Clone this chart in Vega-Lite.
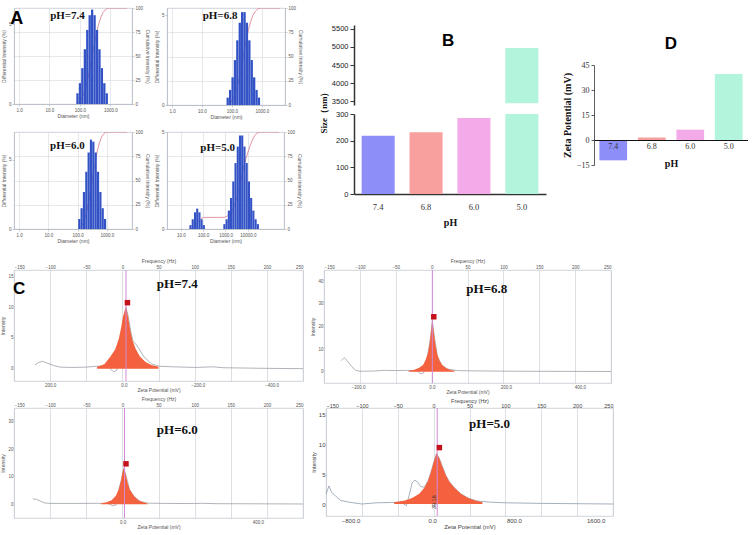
{
"$schema": "https://vega.github.io/schema/vega-lite/v6.json",
"padding": {"left": 0, "top": 4, "right": 0, "bottom": 0},
"background": "white",
"config": {
  "font": "Liberation Sans",
  "view": {"stroke": null},
  "axis": {"labelFontSize": 4.5, "titleFontSize": 5, "titleFontWeight": "normal", "labelColor": "#555", "titleColor": "#555", "domainColor": "#aab0ba", "tickColor": "#aab0ba", "tickSize": 2, "labelPadding": 1, "titlePadding": 2, "gridColor": "#d5d8de", "gridWidth": 0.6, "domainWidth": 0.6, "tickWidth": 0.6, "labelOverlap": false}
},
"datasets": {
  "dls": [
    {"p":"7.4","d":83,"h":0.67},{"p":"7.4","d":100,"h":1.3},{"p":"7.4","d":120,"h":2.24},{"p":"7.4","d":145,"h":3.42},{"p":"7.4","d":174,"h":4.63},{"p":"7.4","d":209,"h":5.55},{"p":"7.4","d":251,"h":5.9},{"p":"7.4","d":302,"h":5.55},{"p":"7.4","d":363,"h":4.63},{"p":"7.4","d":437,"h":3.42},{"p":"7.4","d":525,"h":2.24},{"p":"7.4","d":631,"h":1.3},{"p":"7.4","d":759,"h":0.67},
    {"p":"6.8","d":72,"h":0.41},{"p":"6.8","d":87,"h":0.84},{"p":"6.8","d":105,"h":1.54},{"p":"6.8","d":126,"h":2.5},{"p":"6.8","d":151,"h":3.6},{"p":"6.8","d":182,"h":4.58},{"p":"6.8","d":219,"h":5.17},{"p":"6.8","d":263,"h":5.17},{"p":"6.8","d":316,"h":4.58},{"p":"6.8","d":380,"h":3.6},{"p":"6.8","d":457,"h":2.5},{"p":"6.8","d":550,"h":1.54},{"p":"6.8","d":661,"h":0.84},{"p":"6.8","d":794,"h":0.41},
    {"p":"6.0","d":115,"h":0.72},{"p":"6.0","d":138,"h":1.5},{"p":"6.0","d":166,"h":2.67},{"p":"6.0","d":200,"h":4.13},{"p":"6.0","d":240,"h":5.52},{"p":"6.0","d":288,"h":6.45},{"p":"6.0","d":347,"h":6.3},{"p":"6.0","d":417,"h":5.52},{"p":"6.0","d":501,"h":4.13},{"p":"6.0","d":603,"h":2.67},{"p":"6.0","d":724,"h":1.5},{"p":"6.0","d":871,"h":0.72},
    {"p":"5.0","d":27,"h":0.2},{"p":"5.0","d":34,"h":0.5},{"p":"5.0","d":43,"h":0.86},{"p":"5.0","d":54,"h":1.05},{"p":"5.0","d":68,"h":0.86},{"p":"5.0","d":85,"h":0.5},{"p":"5.0","d":107,"h":0.2},
    {"p":"5.0","d":891,"h":0.25},{"p":"5.0","d":1122,"h":0.5},{"p":"5.0","d":1413,"h":0.95},{"p":"5.0","d":1778,"h":1.6},{"p":"5.0","d":2239,"h":2.45},{"p":"5.0","d":2818,"h":3.4},{"p":"5.0","d":3548,"h":4.25},{"p":"5.0","d":4467,"h":4.82},{"p":"5.0","d":5623,"h":4.82},{"p":"5.0","d":7079,"h":4.25},{"p":"5.0","d":8913,"h":3.4},{"p":"5.0","d":11220,"h":2.45},{"p":"5.0","d":14125,"h":1.6},{"p":"5.0","d":17783,"h":0.95},{"p":"5.0","d":22387,"h":0.5},{"p":"5.0","d":28184,"h":0.25}
  ],
  "cum": [
    {"p":"7.4","d":76,"c":0},{"p":"7.4","d":91,"c":1.6},{"p":"7.4","d":110,"c":4.7},{"p":"7.4","d":132,"c":10.1},{"p":"7.4","d":158,"c":18.4},{"p":"7.4","d":191,"c":29.5},{"p":"7.4","d":229,"c":42.9},{"p":"7.4","d":275,"c":57.1},{"p":"7.4","d":331,"c":70.5},{"p":"7.4","d":398,"c":81.6},{"p":"7.4","d":479,"c":89.9},{"p":"7.4","d":575,"c":95.3},{"p":"7.4","d":692,"c":98.4},{"p":"7.4","d":832,"c":100},{"p":"7.4","d":3500,"c":100},
    {"p":"6.8","d":66,"c":0},{"p":"6.8","d":79,"c":1.1},{"p":"6.8","d":95,"c":3.4},{"p":"6.8","d":115,"c":7.5},{"p":"6.8","d":138,"c":14.2},{"p":"6.8","d":166,"c":23.8},{"p":"6.8","d":200,"c":36.1},{"p":"6.8","d":240,"c":50},{"p":"6.8","d":288,"c":63.9},{"p":"6.8","d":347,"c":76.2},{"p":"6.8","d":417,"c":85.8},{"p":"6.8","d":501,"c":92.5},{"p":"6.8","d":603,"c":96.6},{"p":"6.8","d":724,"c":98.9},{"p":"6.8","d":871,"c":100},{"p":"6.8","d":4000,"c":100},
    {"p":"6.0","d":105,"c":0},{"p":"6.0","d":126,"c":1.7},{"p":"6.0","d":151,"c":5.3},{"p":"6.0","d":182,"c":11.7},{"p":"6.0","d":219,"c":21.6},{"p":"6.0","d":263,"c":34.8},{"p":"6.0","d":316,"c":50},{"p":"6.0","d":380,"c":65.2},{"p":"6.0","d":457,"c":78.4},{"p":"6.0","d":550,"c":88.3},{"p":"6.0","d":661,"c":94.7},{"p":"6.0","d":794,"c":98.3},{"p":"6.0","d":955,"c":100},{"p":"6.0","d":4900,"c":100},
    {"p":"5.0","d":24,"c":0},{"p":"5.0","d":30,"c":0.6},{"p":"5.0","d":38,"c":2},{"p":"5.0","d":48,"c":4.6},{"p":"5.0","d":60,"c":7.8},{"p":"5.0","d":76,"c":10.3},{"p":"5.0","d":95,"c":11.6},{"p":"5.0","d":120,"c":12},{"p":"5.0","d":841,"c":12},{"p":"5.0","d":1000,"c":12.5},{"p":"5.0","d":1259,"c":13.6},{"p":"5.0","d":1585,"c":15.6},{"p":"5.0","d":1995,"c":19},{"p":"5.0","d":2512,"c":24.3},{"p":"5.0","d":3162,"c":31.7},{"p":"5.0","d":3981,"c":41},{"p":"5.0","d":5012,"c":51.5},{"p":"5.0","d":6310,"c":62.1},{"p":"5.0","d":7943,"c":71.4},{"p":"5.0","d":10000,"c":78.8},{"p":"5.0","d":12589,"c":85.5},{"p":"5.0","d":15849,"c":91.6},{"p":"5.0","d":19953,"c":96},{"p":"5.0","d":25119,"c":98.6},{"p":"5.0","d":31623,"c":100},{"p":"5.0","d":250000,"c":100}
  ],
  "alab": [
    {"p":"7.4","x":39,"y":92,"t":"pH=7.4"},{"p":"6.8","x":40,"y":92,"t":"pH=6.8"},{"p":"6.0","x":45,"y":86,"t":"pH=6.0"},{"p":"5.0","x":446,"y":84,"t":"pH=5.0"}
  ],
  "sz": [{"pH":"7.4","size":218},{"pH":"6.8","size":232},{"pH":"6.0","size":285},{"pH":"5.0","size":4970}],
  "zp": [{"pH":"7.4","zeta":-12.2},{"pH":"6.8","zeta":1.5},{"pH":"6.0","zeta":6.2},{"pH":"5.0","zeta":39.6}],
  "ca": [
    {"p":"7.4","f":-35,"i":0.3},{"p":"7.4","f":-25,"i":0.7},{"p":"7.4","f":-17,"i":1.9},{"p":"7.4","f":-10,"i":3.1},{"p":"7.4","f":-5,"i":4.8},{"p":"7.4","f":-2,"i":6.5},{"p":"7.4","f":1,"i":8.5},{"p":"7.4","f":5,"i":10},{"p":"7.4","f":8,"i":8.3},{"p":"7.4","f":11,"i":6.2},{"p":"7.4","f":14,"i":4.6},{"p":"7.4","f":18,"i":3.3},{"p":"7.4","f":24,"i":2},{"p":"7.4","f":32,"i":1.1},{"p":"7.4","f":40,"i":0.6},{"p":"7.4","f":50,"i":0.3},
    {"p":"6.8","f":-32,"i":0.4},{"p":"6.8","f":-25,"i":0.8},{"p":"6.8","f":-18,"i":1.6},{"p":"6.8","f":-12,"i":3},{"p":"6.8","f":-8,"i":5.5},{"p":"6.8","f":-5,"i":8.5},{"p":"6.8","f":-3,"i":12},{"p":"6.8","f":-1,"i":17},{"p":"6.8","f":1,"i":22.8},{"p":"6.8","f":3,"i":17.5},{"p":"6.8","f":5,"i":12.5},{"p":"6.8","f":8,"i":7.5},{"p":"6.8","f":11,"i":4.8},{"p":"6.8","f":15,"i":2.9},{"p":"6.8","f":20,"i":1.6},{"p":"6.8","f":26,"i":0.8},{"p":"6.8","f":32,"i":0.4},
    {"p":"6.0","f":-30,"i":0.3},{"p":"6.0","f":-22,"i":0.7},{"p":"6.0","f":-15,"i":1.5},{"p":"6.0","f":-9,"i":3.1},{"p":"6.0","f":-5,"i":5.5},{"p":"6.0","f":-2,"i":8.5},{"p":"6.0","f":0,"i":11.5},{"p":"6.0","f":2,"i":13.2},{"p":"6.0","f":4,"i":11.5},{"p":"6.0","f":7,"i":8},{"p":"6.0","f":10,"i":5.5},{"p":"6.0","f":16,"i":3},{"p":"6.0","f":22,"i":1.5},{"p":"6.0","f":28,"i":0.8},{"p":"6.0","f":35,"i":0.3},
    {"p":"5.0","f":-55,"i":0.3},{"p":"5.0","f":-40,"i":0.6},{"p":"5.0","f":-30,"i":1},{"p":"5.0","f":-20,"i":1.7},{"p":"5.0","f":-13,"i":2.7},{"p":"5.0","f":-8,"i":3.8},{"p":"5.0","f":-4,"i":5.2},{"p":"5.0","f":0,"i":6.9},{"p":"5.0","f":4,"i":8.4},{"p":"5.0","f":8,"i":7.6},{"p":"5.0","f":12,"i":6.3},{"p":"5.0","f":17,"i":4.8},{"p":"5.0","f":22,"i":3.7},{"p":"5.0","f":29,"i":2.7},{"p":"5.0","f":38,"i":1.7},{"p":"5.0","f":48,"i":1},{"p":"5.0","f":58,"i":0.6},{"p":"5.0","f":68,"i":0.3}
  ],
  "cl": [
    {"p":"7.4","f":-121,"i":0.6},{"p":"7.4","f":-116,"i":1},{"p":"7.4","f":-111,"i":1.2},{"p":"7.4","f":-104,"i":0.9},{"p":"7.4","f":-95,"i":0.5},{"p":"7.4","f":-86,"i":0.25},{"p":"7.4","f":-70,"i":0.2},{"p":"7.4","f":-50,"i":0.25},{"p":"7.4","f":-35,"i":0.4},{"p":"7.4","f":-20,"i":0.3},{"p":"7.4","f":-12,"i":-0.5},{"p":"7.4","f":-8,"i":-0.3},{"p":"7.4","f":-4,"i":2},{"p":"7.4","f":0,"i":6},{"p":"7.4","f":3,"i":9},{"p":"7.4","f":5,"i":9.9},{"p":"7.4","f":8,"i":8.6},{"p":"7.4","f":12,"i":5.8},{"p":"7.4","f":15,"i":4.4},{"p":"7.4","f":18,"i":4.1},{"p":"7.4","f":22,"i":3.4},{"p":"7.4","f":30,"i":1.9},{"p":"7.4","f":40,"i":0.8},{"p":"7.4","f":50,"i":0.4},{"p":"7.4","f":70,"i":0.3},{"p":"7.4","f":100,"i":0.2},{"p":"7.4","f":126,"i":0.3},{"p":"7.4","f":140,"i":0.15},{"p":"7.4","f":200,"i":0.05},{"p":"7.4","f":250,"i":0},
    {"p":"6.8","f":-126,"i":4.9},{"p":"6.8","f":-122,"i":6.2},{"p":"6.8","f":-118,"i":5},{"p":"6.8","f":-112,"i":2.5},{"p":"6.8","f":-106,"i":0.6},{"p":"6.8","f":-100,"i":0.2},{"p":"6.8","f":-80,"i":0.3},{"p":"6.8","f":-66,"i":0.6},{"p":"6.8","f":-50,"i":0.5},{"p":"6.8","f":-35,"i":0.6},{"p":"6.8","f":-20,"i":0.3},{"p":"6.8","f":-15,"i":-1},{"p":"6.8","f":-11,"i":-0.5},{"p":"6.8","f":-6,"i":6.5},{"p":"6.8","f":-2,"i":14},{"p":"6.8","f":1,"i":22.5},{"p":"6.8","f":4,"i":15},{"p":"6.8","f":8,"i":7},{"p":"6.8","f":14,"i":3},{"p":"6.8","f":22,"i":1.2},{"p":"6.8","f":35,"i":0.5},{"p":"6.8","f":50,"i":0.4},{"p":"6.8","f":80,"i":0.3},{"p":"6.8","f":120,"i":0.2},{"p":"6.8","f":180,"i":0.15},{"p":"6.8","f":250,"i":0.1},
    {"p":"6.0","f":-124,"i":1.9},{"p":"6.0","f":-119,"i":1.8},{"p":"6.0","f":-114,"i":1.2},{"p":"6.0","f":-108,"i":0.5},{"p":"6.0","f":-100,"i":0.3},{"p":"6.0","f":-60,"i":0.3},{"p":"6.0","f":-35,"i":0.35},{"p":"6.0","f":-20,"i":0.3},{"p":"6.0","f":-13,"i":-0.6},{"p":"6.0","f":-9,"i":-0.3},{"p":"6.0","f":-5,"i":5},{"p":"6.0","f":-2,"i":8.3},{"p":"6.0","f":2,"i":13},{"p":"6.0","f":5,"i":10.5},{"p":"6.0","f":10,"i":5.3},{"p":"6.0","f":16,"i":2.9},{"p":"6.0","f":25,"i":1},{"p":"6.0","f":35,"i":0.4},{"p":"6.0","f":60,"i":0.3},{"p":"6.0","f":100,"i":0.25},{"p":"6.0","f":110,"i":0.35},{"p":"6.0","f":130,"i":0.2},{"p":"6.0","f":200,"i":0.15},{"p":"6.0","f":250,"i":0.1},
    {"p":"5.0","f":-150,"i":1.6},{"p":"5.0","f":-146,"i":3},{"p":"5.0","f":-142,"i":1.9},{"p":"5.0","f":-138,"i":1.5},{"p":"5.0","f":-130,"i":0.6},{"p":"5.0","f":-118,"i":0.3},{"p":"5.0","f":-100,"i":0},{"p":"5.0","f":-80,"i":0.2},{"p":"5.0","f":-60,"i":0.25},{"p":"5.0","f":-45,"i":0.3},{"p":"5.0","f":-38,"i":-0.3},{"p":"5.0","f":-34,"i":1.5},{"p":"5.0","f":-30,"i":3.5},{"p":"5.0","f":-26,"i":4},{"p":"5.0","f":-22,"i":3.6},{"p":"5.0","f":-18,"i":2.9},{"p":"5.0","f":-13,"i":2.8},{"p":"5.0","f":-8,"i":3.8},{"p":"5.0","f":-4,"i":5.2},{"p":"5.0","f":0,"i":6.9},{"p":"5.0","f":4,"i":8.4},{"p":"5.0","f":8,"i":7.6},{"p":"5.0","f":12,"i":6.3},{"p":"5.0","f":17,"i":4.8},{"p":"5.0","f":22,"i":3.7},{"p":"5.0","f":29,"i":2.7},{"p":"5.0","f":38,"i":1.7},{"p":"5.0","f":48,"i":1},{"p":"5.0","f":60,"i":0.5},{"p":"5.0","f":80,"i":0.3},{"p":"5.0","f":100,"i":0.2},{"p":"5.0","f":150,"i":0.1},{"p":"5.0","f":200,"i":0.05},{"p":"5.0","f":250,"i":0}
  ],
  "cp": [{"p":"7.4","fr":5,"fs":7,"is":10.7},{"p":"6.8","fr":1,"fs":3,"is":24.3},{"p":"6.0","fr":3,"fs":5,"is":14.7},{"p":"5.0","fr":5,"fs":8,"is":9.4}],
  "ct": [{"p":"7.4","f":76,"i":13.8,"t":"pH=7.4"},{"p":"6.8","f":77,"i":36.6,"t":"pH=6.8"},{"p":"6.0","f":76,"i":26.9,"t":"pH=6.0"},{"p":"5.0","f":78,"i":13.3,"t":"pH=5.0"}],
  "zt": [{"p":"7.4","z":200},{"p":"7.4","z":0},{"p":"7.4","z":-200},{"p":"7.4","z":-400},{"p":"6.8","z":-200},{"p":"6.8","z":0},{"p":"6.8","z":200},{"p":"6.8","z":400},{"p":"6.0","z":0},{"p":"6.0","z":400},{"p":"5.0","z":-800},{"p":"5.0","z":0},{"p":"5.0","z":800},{"p":"5.0","z":1600}]
},
"vconcat": [
 {"hconcat": [
  {"vconcat": [
   {"hconcat": [
    {"width": 118, "height": 96, "view": {"stroke": "#c8cdd6", "strokeWidth": 0.8},
     "layer": [
      {"data": {"name": "cum"}, "transform": [{"filter": "datum.p == '7.4'"}], "mark": {"type": "line", "color": "#d9788a", "strokeWidth": 0.8, "clip": true},
       "encoding": {"x": {"field": "d", "type": "quantitative", "scale": {"type": "log", "domain": [1, 3500]}, "axis": {"values": [1, 10, 100, 1000], "tickCount": 20, "format": ".1f", "grid": true, "title": "Diameter (nm)"}},
                    "y": {"field": "c", "type": "quantitative", "scale": {"domain": [0, 100]}, "axis": {"orient": "right", "values": [0, 25, 50, 75, 100], "tickCount": 20, "grid": true, "title": "Cumulative Intensity (%)"}}}},
      {"data": {"name": "dls"}, "transform": [{"filter": "datum.p == '7.4'"}], "mark": {"type": "bar", "orient": "vertical", "size": 2.3, "color": "#3252c6", "clip": true},
       "encoding": {"x": {"field": "d", "type": "quantitative", "scale": {"type": "log", "domain": [1, 3500]}},
                    "y": {"field": "h", "type": "quantitative", "scale": {"domain": [0, 6]}, "axis": {"orient": "left", "values": [0, 5], "title": "Differential Intensity (%)"}}}},
      {"data": {"name": "alab"}, "transform": [{"filter": "datum.p == '7.4'"}], "mark": {"type": "text", "font": "Liberation Serif", "fontWeight": "bold", "fontSize": 11, "color": "#111"},
       "encoding": {"x": {"field": "x", "type": "quantitative", "scale": {"type": "log", "domain": [1, 3500]}}, "y": {"field": "y", "type": "quantitative", "scale": {"domain": [0, 100]}, "axis": null}, "text": {"field": "t"}}},
      {"data": {"values": [{"x": 0.85, "y": 89, "t": "A"}]}, "mark": {"type": "text", "fontWeight": "bold", "fontSize": 18, "color": "#000"},
       "encoding": {"x": {"field": "x", "type": "quantitative", "scale": {"type": "log", "domain": [1, 3500]}}, "y": {"field": "y", "type": "quantitative", "scale": {"domain": [0, 100]}, "axis": null}, "text": {"field": "t"}}}
     ],
     "resolve": {"scale": {"y": "independent"}}},
    {"width": 118, "height": 97, "view": {"stroke": "#c8cdd6", "strokeWidth": 0.8},
     "layer": [
      {"data": {"name": "cum"}, "transform": [{"filter": "datum.p == '6.8'"}], "mark": {"type": "line", "color": "#d9788a", "strokeWidth": 0.8, "clip": true},
       "encoding": {"x": {"field": "d", "type": "quantitative", "scale": {"type": "log", "domain": [1, 4000]}, "axis": {"values": [1, 10, 100, 1000], "tickCount": 20, "format": ".1f", "grid": true, "title": "Diameter (nm)"}},
                    "y": {"field": "c", "type": "quantitative", "scale": {"domain": [0, 100]}, "axis": {"orient": "right", "values": [0, 25, 50, 75, 100], "tickCount": 20, "grid": true, "title": "Cumulative Intensity (%)"}}}},
      {"data": {"name": "dls"}, "transform": [{"filter": "datum.p == '6.8'"}], "mark": {"type": "bar", "orient": "vertical", "size": 2.3, "color": "#3252c6", "clip": true},
       "encoding": {"x": {"field": "d", "type": "quantitative", "scale": {"type": "log", "domain": [1, 4000]}},
                    "y": {"field": "h", "type": "quantitative", "scale": {"domain": [0, 5.4]}, "axis": {"orient": "left", "values": [0, 5], "title": "Differential Intensity (%)"}}}},
      {"data": {"name": "alab"}, "transform": [{"filter": "datum.p == '6.8'"}], "mark": {"type": "text", "font": "Liberation Serif", "fontWeight": "bold", "fontSize": 11, "color": "#111"},
       "encoding": {"x": {"field": "x", "type": "quantitative", "scale": {"type": "log", "domain": [1, 4000]}}, "y": {"field": "y", "type": "quantitative", "scale": {"domain": [0, 100]}, "axis": null}, "text": {"field": "t"}}}
     ],
     "resolve": {"scale": {"y": "independent"}}}
   ], "spacing": 4},
   {"hconcat": [
    {"width": 118, "height": 97, "view": {"stroke": "#c8cdd6", "strokeWidth": 0.8},
     "layer": [
      {"data": {"name": "cum"}, "transform": [{"filter": "datum.p == '6.0'"}], "mark": {"type": "line", "color": "#d9788a", "strokeWidth": 0.8, "clip": true},
       "encoding": {"x": {"field": "d", "type": "quantitative", "scale": {"type": "log", "domain": [1, 4900]}, "axis": {"values": [1, 10, 100, 1000], "tickCount": 20, "format": ".1f", "grid": true, "title": "Diameter (nm)"}},
                    "y": {"field": "c", "type": "quantitative", "scale": {"domain": [0, 100]}, "axis": {"orient": "right", "values": [0, 25, 50, 75, 100], "tickCount": 20, "grid": true, "title": "Cumulative Intensity (%)"}}}},
      {"data": {"name": "dls"}, "transform": [{"filter": "datum.p == '6.0'"}], "mark": {"type": "bar", "orient": "vertical", "size": 2.2, "color": "#3252c6", "clip": true},
       "encoding": {"x": {"field": "d", "type": "quantitative", "scale": {"type": "log", "domain": [1, 4900]}},
                    "y": {"field": "h", "type": "quantitative", "scale": {"domain": [0, 7]}, "axis": {"orient": "left", "values": [0, 5], "title": "Differential Intensity (%)"}}}},
      {"data": {"name": "alab"}, "transform": [{"filter": "datum.p == '6.0'"}], "mark": {"type": "text", "font": "Liberation Serif", "fontWeight": "bold", "fontSize": 11, "color": "#111"},
       "encoding": {"x": {"field": "x", "type": "quantitative", "scale": {"type": "log", "domain": [1, 4900]}}, "y": {"field": "y", "type": "quantitative", "scale": {"domain": [0, 100]}, "axis": null}, "text": {"field": "t"}}}
     ],
     "resolve": {"scale": {"y": "independent"}}},
    {"width": 117, "height": 97, "view": {"stroke": "#c8cdd6", "strokeWidth": 0.8},
     "layer": [
      {"data": {"name": "cum"}, "transform": [{"filter": "datum.p == '5.0'"}], "mark": {"type": "line", "color": "#d9788a", "strokeWidth": 0.8, "clip": true},
       "encoding": {"x": {"field": "d", "type": "quantitative", "scale": {"type": "log", "domain": [4, 250000]}, "axis": {"values": [10, 100, 1000, 10000], "tickCount": 20, "format": ".1f", "grid": true, "title": "Diameter (nm)"}},
                    "y": {"field": "c", "type": "quantitative", "scale": {"domain": [0, 100]}, "axis": {"orient": "right", "values": [0, 25, 50, 75, 100], "tickCount": 20, "grid": true, "title": "Cumulative Intensity (%)"}}}},
      {"data": {"name": "dls"}, "transform": [{"filter": "datum.p == '5.0'"}], "mark": {"type": "bar", "orient": "vertical", "size": 2.1, "color": "#3252c6", "clip": true},
       "encoding": {"x": {"field": "d", "type": "quantitative", "scale": {"type": "log", "domain": [4, 250000]}},
                    "y": {"field": "h", "type": "quantitative", "scale": {"domain": [0, 5]}, "axis": {"orient": "left", "values": [0, 5], "title": "Differential Intensity (%)"}}}},
      {"data": {"name": "alab"}, "transform": [{"filter": "datum.p == '5.0'"}], "mark": {"type": "text", "font": "Liberation Serif", "fontWeight": "bold", "fontSize": 11, "color": "#111"},
       "encoding": {"x": {"field": "x", "type": "quantitative", "scale": {"type": "log", "domain": [4, 250000]}}, "y": {"field": "y", "type": "quantitative", "scale": {"domain": [0, 100]}, "axis": null}, "text": {"field": "t"}}}
     ],
     "resolve": {"scale": {"y": "independent"}}}
   ], "spacing": 4}
  ], "spacing": 8},
  {"hconcat": [
   {"vconcat": [
    {"width": 1, "height": 16, "data": {"values": [{"t": ""}]}, "mark": {"type": "text"}, "encoding": {"text": {"field": "t"}}},
    {"width": 192, "height": 169,
     "layer": [
      {"layer": [
       {"data": {"name": "sz"}, "transform": [{"filter": "datum.size > 3500"}], "mark": {"type": "bar"},
        "encoding": {"x": {"field": "pH", "type": "nominal", "scale": {"domain": ["7.4", "6.8", "6.0", "5.0"], "paddingInner": 0.31, "paddingOuter": 0.16}, "axis": {"title": "pH", "labelAngle": 0, "labelFont": "Liberation Serif", "labelFontSize": 8.5, "labelColor": "#333", "titleFont": "Liberation Serif", "titleFontWeight": "bold", "titleFontSize": 10, "titleColor": "#111", "domainColor": "#333", "domainWidth": 1.5, "ticks": false, "labelPadding": 8, "titlePadding": 7}},
                     "y": {"field": "size", "type": "quantitative", "scale": {"domain": [3500, 5500], "range": [80, 0]}, "axis": {"orient": "left", "values": [3500, 4000, 4500, 5000, 5500], "tickCount": 20, "format": "d", "title": "Size（nm）", "titleFont": "Liberation Serif", "titleFontWeight": "bold", "titleFontSize": 9, "titleColor": "#111", "titleY": 85, "titlePadding": 3, "labelFontSize": 7.5, "labelColor": "#222", "domainColor": "#333", "domainWidth": 1.5, "tickColor": "#333", "tickWidth": 1, "tickSize": 4, "labelPadding": 2, "grid": false}},
                     "y2": {"datum": 3450},
                     "color": {"field": "pH", "type": "nominal", "scale": {"domain": ["7.4", "6.8", "6.0", "5.0"], "range": ["#8e8ef8", "#f8a09e", "#f3aae8", "#b2f5dc"]}, "legend": null}}},
       {"data": {"values": [{"pH": "6.8", "y": 5150, "t": "B"}]}, "mark": {"type": "text", "fontSize": 17, "fontWeight": "bold", "dx": 22, "color": "#000"},
        "encoding": {"x": {"field": "pH", "type": "nominal"}, "y": {"field": "y", "type": "quantitative"}, "text": {"field": "t"}}}
      ]},
      {"data": {"name": "sz"}, "mark": {"type": "bar"},
       "encoding": {"x": {"field": "pH", "type": "nominal"},
                    "y": {"field": "size", "type": "quantitative", "scale": {"domain": [0, 300], "range": [169, 89], "clamp": true}, "axis": {"orient": "left", "values": [0, 100, 200, 300], "tickCount": 20, "title": null, "labelFontSize": 7.5, "labelColor": "#222", "domainColor": "#333", "domainWidth": 1.5, "tickColor": "#333", "tickWidth": 1, "tickSize": 4, "labelPadding": 2, "grid": false}},
                    "color": {"field": "pH", "type": "nominal", "legend": null}}}
     ],
     "resolve": {"scale": {"y": "independent"}}}
   ], "spacing": 0},
   {"vconcat": [
    {"width": 1, "height": 27, "data": {"values": [{"t": ""}]}, "mark": {"type": "text"}, "encoding": {"text": {"field": "t"}}},
    {"width": 154, "height": 100,
     "title": {"text": "D", "fontSize": 17, "fontWeight": "bold", "font": "Liberation Sans", "offset": 8, "color": "#000"},
     "data": {"name": "zp"}, "mark": {"type": "bar"},
     "encoding": {"x": {"field": "pH", "type": "nominal", "scale": {"domain": ["7.4", "6.8", "6.0", "5.0"], "paddingInner": 0.28, "paddingOuter": 0.14}, "axis": {"offset": -25, "zindex": 1, "labelAngle": 0, "ticks": false, "domainColor": "#111", "domainWidth": 1.2, "labelFont": "Liberation Serif", "labelFontSize": 8, "labelColor": "#333", "labelPadding": 2, "title": "pH", "titleFont": "Liberation Serif", "titleFontWeight": "bold", "titleFontSize": 10, "titleColor": "#111", "titlePadding": 8}},
                  "y": {"field": "zeta", "type": "quantitative", "scale": {"domain": [-15, 45]}, "axis": {"values": [-15, 0, 15, 30, 45], "tickCount": 20, "title": "Zeta Potential (mV)", "titleFont": "Liberation Serif", "titleFontWeight": "bold", "titleFontSize": 10, "titleColor": "#111", "titlePadding": 4, "labelFont": "Liberation Serif", "labelFontSize": 8, "labelColor": "#333", "domainColor": "#333", "tickColor": "#333", "tickSize": 3, "domainWidth": 0.8, "tickWidth": 0.8, "labelPadding": 2, "grid": false}},
                  "color": {"field": "pH", "type": "nominal", "scale": {"domain": ["7.4", "6.8", "6.0", "5.0"], "range": ["#8e8ef8", "#f8a09e", "#f3aae8", "#b2f5dc"]}, "legend": null}}}
   ], "spacing": 0}
  ], "spacing": 16}
 ], "spacing": 16},
 {"vconcat": [
  {"hconcat": [
   {"width": 289, "height": 111, "view": {"stroke": "#c4c9d2", "strokeWidth": 0.8},
    "layer": [
     {"data": {"name": "zt"}, "transform": [{"filter": "datum.p == '7.4'"}], "mark": {"type": "point", "opacity": 0},
      "encoding": {"x": {"field": "z", "type": "quantitative", "scale": {"domain": [-485, 297.5], "reverse": true}, "axis": {"orient": "bottom", "values": [200, 0, -200, -400], "tickCount": 20, "format": ".1f", "title": "Zeta Potential (mV)", "grid": false, "domain": false, "ticks": false, "labelPadding": 1, "titlePadding": 1}}}},
     {"layer": [
      {"data": {"name": "cl"}, "transform": [{"filter": "datum.p == '7.4'"}], "mark": {"type": "line", "color": "#8c939c", "strokeWidth": 0.7, "clip": true},
       "encoding": {"x": {"field": "f", "type": "quantitative", "scale": {"domain": [-150, 250]}, "axis": {"orient": "top", "values": [-150, -100, -50, 0, 50, 100, 150, 200, 250], "tickCount": 20, "grid": true, "gridColor": "#c6cad2", "title": "Frequency (Hz)", "domain": false, "ticks": false, "labelPadding": 1, "titlePadding": 1}},
                    "y": {"field": "i", "type": "quantitative", "scale": {"domain": [-1.2, 15.5]}, "axis": {"values": [0, 5, 10, 15], "tickCount": 20, "title": "Intensity", "grid": false, "domain": false, "ticks": false}}}},
      {"data": {"name": "ca"}, "transform": [{"filter": "datum.p == '7.4'"}], "mark": {"type": "area", "color": "#f4613f", "clip": true}, "encoding": {"x": {"field": "f", "type": "quantitative"}, "y": {"field": "i", "type": "quantitative"}}},
      {"data": {"name": "cp"}, "transform": [{"filter": "datum.p == '7.4'"}], "mark": {"type": "rule", "color": "#d18ad8", "strokeWidth": 1}, "encoding": {"x": {"field": "fr", "type": "quantitative"}}},
      {"data": {"name": "cp"}, "transform": [{"filter": "datum.p == '7.4'"}], "mark": {"type": "point", "shape": "square", "filled": true, "color": "#c4111b", "size": 30, "opacity": 1}, "encoding": {"x": {"field": "fs", "type": "quantitative"}, "y": {"field": "is", "type": "quantitative"}}},
      {"data": {"name": "ct"}, "transform": [{"filter": "datum.p == '7.4'"}], "mark": {"type": "text", "font": "Liberation Serif", "fontWeight": "bold", "fontSize": 13, "color": "#111"}, "encoding": {"x": {"field": "f", "type": "quantitative"}, "y": {"field": "i", "type": "quantitative"}, "text": {"field": "t"}}},
      {"data": {"values": [{"f": -143, "i": 13, "t": "C"}]}, "mark": {"type": "text", "fontWeight": "bold", "fontSize": 17, "color": "#000", "clip": false}, "encoding": {"x": {"field": "f", "type": "quantitative"}, "y": {"field": "i", "type": "quantitative"}, "text": {"field": "t"}}}
     ]}
    ],
    "resolve": {"scale": {"x": "independent"}}},
   {"width": 287, "height": 113, "view": {"stroke": "#c4c9d2", "strokeWidth": 0.8},
    "layer": [
     {"data": {"name": "zt"}, "transform": [{"filter": "datum.p == '6.8'"}], "mark": {"type": "point", "opacity": 0},
      "encoding": {"x": {"field": "z", "type": "quantitative", "scale": {"domain": [-292, 484]}, "axis": {"orient": "bottom", "values": [-200, 0, 200, 400], "tickCount": 20, "format": ".1f", "title": "Zeta Potential (mV)", "grid": false, "domain": false, "ticks": false, "labelPadding": 1, "titlePadding": 1}}}},
     {"layer": [
      {"data": {"name": "cl"}, "transform": [{"filter": "datum.p == '6.8'"}], "mark": {"type": "line", "color": "#8c939c", "strokeWidth": 0.7, "clip": true},
       "encoding": {"x": {"field": "f", "type": "quantitative", "scale": {"domain": [-150, 250]}, "axis": {"orient": "top", "values": [-150, -100, -50, 0, 50, 100, 150, 200, 250], "tickCount": 20, "grid": true, "gridColor": "#c6cad2", "title": "Frequency (Hz)", "domain": false, "ticks": false, "labelPadding": 1, "titlePadding": 1}},
                    "y": {"field": "i", "type": "quantitative", "scale": {"domain": [-1.5, 40.7]}, "axis": {"values": [0, 10, 20, 30, 40], "tickCount": 20, "title": "Intensity", "grid": false, "domain": false, "ticks": false}}}},
      {"data": {"name": "ca"}, "transform": [{"filter": "datum.p == '6.8'"}], "mark": {"type": "area", "color": "#f4613f", "clip": true}, "encoding": {"x": {"field": "f", "type": "quantitative"}, "y": {"field": "i", "type": "quantitative"}}},
      {"data": {"name": "cp"}, "transform": [{"filter": "datum.p == '6.8'"}], "mark": {"type": "rule", "color": "#d18ad8", "strokeWidth": 1}, "encoding": {"x": {"field": "fr", "type": "quantitative"}}},
      {"data": {"name": "cp"}, "transform": [{"filter": "datum.p == '6.8'"}], "mark": {"type": "point", "shape": "square", "filled": true, "color": "#c4111b", "size": 30, "opacity": 1}, "encoding": {"x": {"field": "fs", "type": "quantitative"}, "y": {"field": "is", "type": "quantitative"}}},
      {"data": {"name": "ct"}, "transform": [{"filter": "datum.p == '6.8'"}], "mark": {"type": "text", "font": "Liberation Serif", "fontWeight": "bold", "fontSize": 13, "color": "#111"}, "encoding": {"x": {"field": "f", "type": "quantitative"}, "y": {"field": "i", "type": "quantitative"}, "text": {"field": "t"}}}
     ]}
    ],
    "resolve": {"scale": {"x": "independent"}}}
  ], "spacing": 6},
  {"hconcat": [
   {"width": 289, "height": 110, "view": {"stroke": "#c4c9d2", "strokeWidth": 0.8},
    "layer": [
     {"data": {"name": "zt"}, "transform": [{"filter": "datum.p == '6.0'"}], "mark": {"type": "point", "opacity": 0},
      "encoding": {"x": {"field": "z", "type": "quantitative", "scale": {"domain": [-322, 534]}, "axis": {"orient": "bottom", "values": [0, 400], "tickCount": 20, "format": ".1f", "title": "Zeta Potential (mV)", "grid": false, "domain": false, "ticks": false, "labelPadding": 1, "titlePadding": 1}}}},
     {"layer": [
      {"data": {"name": "cl"}, "transform": [{"filter": "datum.p == '6.0'"}], "mark": {"type": "line", "color": "#8c939c", "strokeWidth": 0.7, "clip": true},
       "encoding": {"x": {"field": "f", "type": "quantitative", "scale": {"domain": [-150, 250]}, "axis": {"orient": "top", "values": [-150, -100, -50, 0, 50, 100, 150, 200, 250], "tickCount": 20, "grid": true, "gridColor": "#c6cad2", "title": "Frequency (Hz)", "domain": false, "ticks": false, "labelPadding": 1, "titlePadding": 1}},
                    "y": {"field": "i", "type": "quantitative", "scale": {"domain": [-1.1, 30.5]}, "axis": {"values": [0, 10, 20, 30], "tickCount": 20, "title": "Intensity", "grid": false, "domain": false, "ticks": false}}}},
      {"data": {"name": "ca"}, "transform": [{"filter": "datum.p == '6.0'"}], "mark": {"type": "area", "color": "#f4613f", "clip": true}, "encoding": {"x": {"field": "f", "type": "quantitative"}, "y": {"field": "i", "type": "quantitative"}}},
      {"data": {"name": "cp"}, "transform": [{"filter": "datum.p == '6.0'"}], "mark": {"type": "rule", "color": "#d18ad8", "strokeWidth": 1}, "encoding": {"x": {"field": "fr", "type": "quantitative"}}},
      {"data": {"name": "cp"}, "transform": [{"filter": "datum.p == '6.0'"}], "mark": {"type": "point", "shape": "square", "filled": true, "color": "#c4111b", "size": 30, "opacity": 1}, "encoding": {"x": {"field": "fs", "type": "quantitative"}, "y": {"field": "is", "type": "quantitative"}}},
      {"data": {"name": "ct"}, "transform": [{"filter": "datum.p == '6.0'"}], "mark": {"type": "text", "font": "Liberation Serif", "fontWeight": "bold", "fontSize": 13, "color": "#111"}, "encoding": {"x": {"field": "f", "type": "quantitative"}, "y": {"field": "i", "type": "quantitative"}, "text": {"field": "t"}}}
     ]}
    ],
    "resolve": {"scale": {"x": "independent"}}},
   {"width": 287, "height": 108, "view": {"stroke": "#c4c9d2", "strokeWidth": 0.8},
    "layer": [
     {"data": {"name": "zt"}, "transform": [{"filter": "datum.p == '5.0'"}], "mark": {"type": "point", "opacity": 0},
      "encoding": {"x": {"field": "z", "type": "quantitative", "scale": {"domain": [-1040, 1770]}, "axis": {"orient": "bottom", "values": [-800, 0, 800, 1600], "tickCount": 20, "format": ".1f", "title": "Zeta Potential (mV)", "grid": false, "domain": false, "ticks": false, "labelPadding": 1, "titlePadding": 0, "labelFontSize": 6, "titleFontSize": 6, "labelColor": "#444", "titleColor": "#444"}}}},
     {"layer": [
      {"data": {"name": "cl"}, "transform": [{"filter": "datum.p == '5.0'"}], "mark": {"type": "line", "color": "#7f8ea3", "strokeWidth": 0.7, "clip": true},
       "encoding": {"x": {"field": "f", "type": "quantitative", "scale": {"domain": [-150, 250]}, "axis": {"orient": "top", "values": [-150, -100, -50, 0, 50, 100, 150, 200, 250], "tickCount": 20, "grid": true, "gridColor": "#c6cad2", "title": "Frequency (Hz)", "domain": false, "ticks": false, "labelPadding": 0, "titlePadding": 0, "labelFontSize": 5.5, "titleFontSize": 5.5, "labelColor": "#444", "titleColor": "#444"}},
                    "y": {"field": "i", "type": "quantitative", "scale": {"domain": [-1.1, 15.94]}, "axis": {"values": [0, 5, 10, 15], "tickCount": 20, "title": "Intensity", "grid": false, "domain": false, "ticks": false, "labelFontSize": 6, "titleFontSize": 5.5, "labelColor": "#444", "titleColor": "#444"}}}},
      {"data": {"name": "ca"}, "transform": [{"filter": "datum.p == '5.0'"}], "mark": {"type": "area", "color": "#f4613f", "clip": true}, "encoding": {"x": {"field": "f", "type": "quantitative"}, "y": {"field": "i", "type": "quantitative"}}},
      {"data": {"name": "cp"}, "transform": [{"filter": "datum.p == '5.0'"}], "mark": {"type": "rule", "color": "#d18ad8", "strokeWidth": 1}, "encoding": {"x": {"field": "fr", "type": "quantitative"}}},
      {"data": {"name": "cp"}, "transform": [{"filter": "datum.p == '5.0'"}], "mark": {"type": "point", "shape": "square", "filled": true, "color": "#c4111b", "size": 30, "opacity": 1}, "encoding": {"x": {"field": "fs", "type": "quantitative"}, "y": {"field": "is", "type": "quantitative"}}},
      {"data": {"name": "ct"}, "transform": [{"filter": "datum.p == '5.0'"}], "mark": {"type": "text", "font": "Liberation Serif", "fontWeight": "bold", "fontSize": 13, "color": "#111"}, "encoding": {"x": {"field": "f", "type": "quantitative"}, "y": {"field": "i", "type": "quantitative"}, "text": {"field": "t"}}},
      {"data": {"values": [{"f": 1, "i": 0.3, "t": "39.16"}]}, "mark": {"type": "text", "angle": 270, "fontSize": 5.5, "color": "#333"}, "encoding": {"x": {"field": "f", "type": "quantitative"}, "y": {"field": "i", "type": "quantitative"}, "text": {"field": "t"}}}
     ]}
    ],
    "resolve": {"scale": {"x": "independent"}}}
  ], "spacing": 6}
 ], "spacing": 0}
],
"spacing": 13
}
